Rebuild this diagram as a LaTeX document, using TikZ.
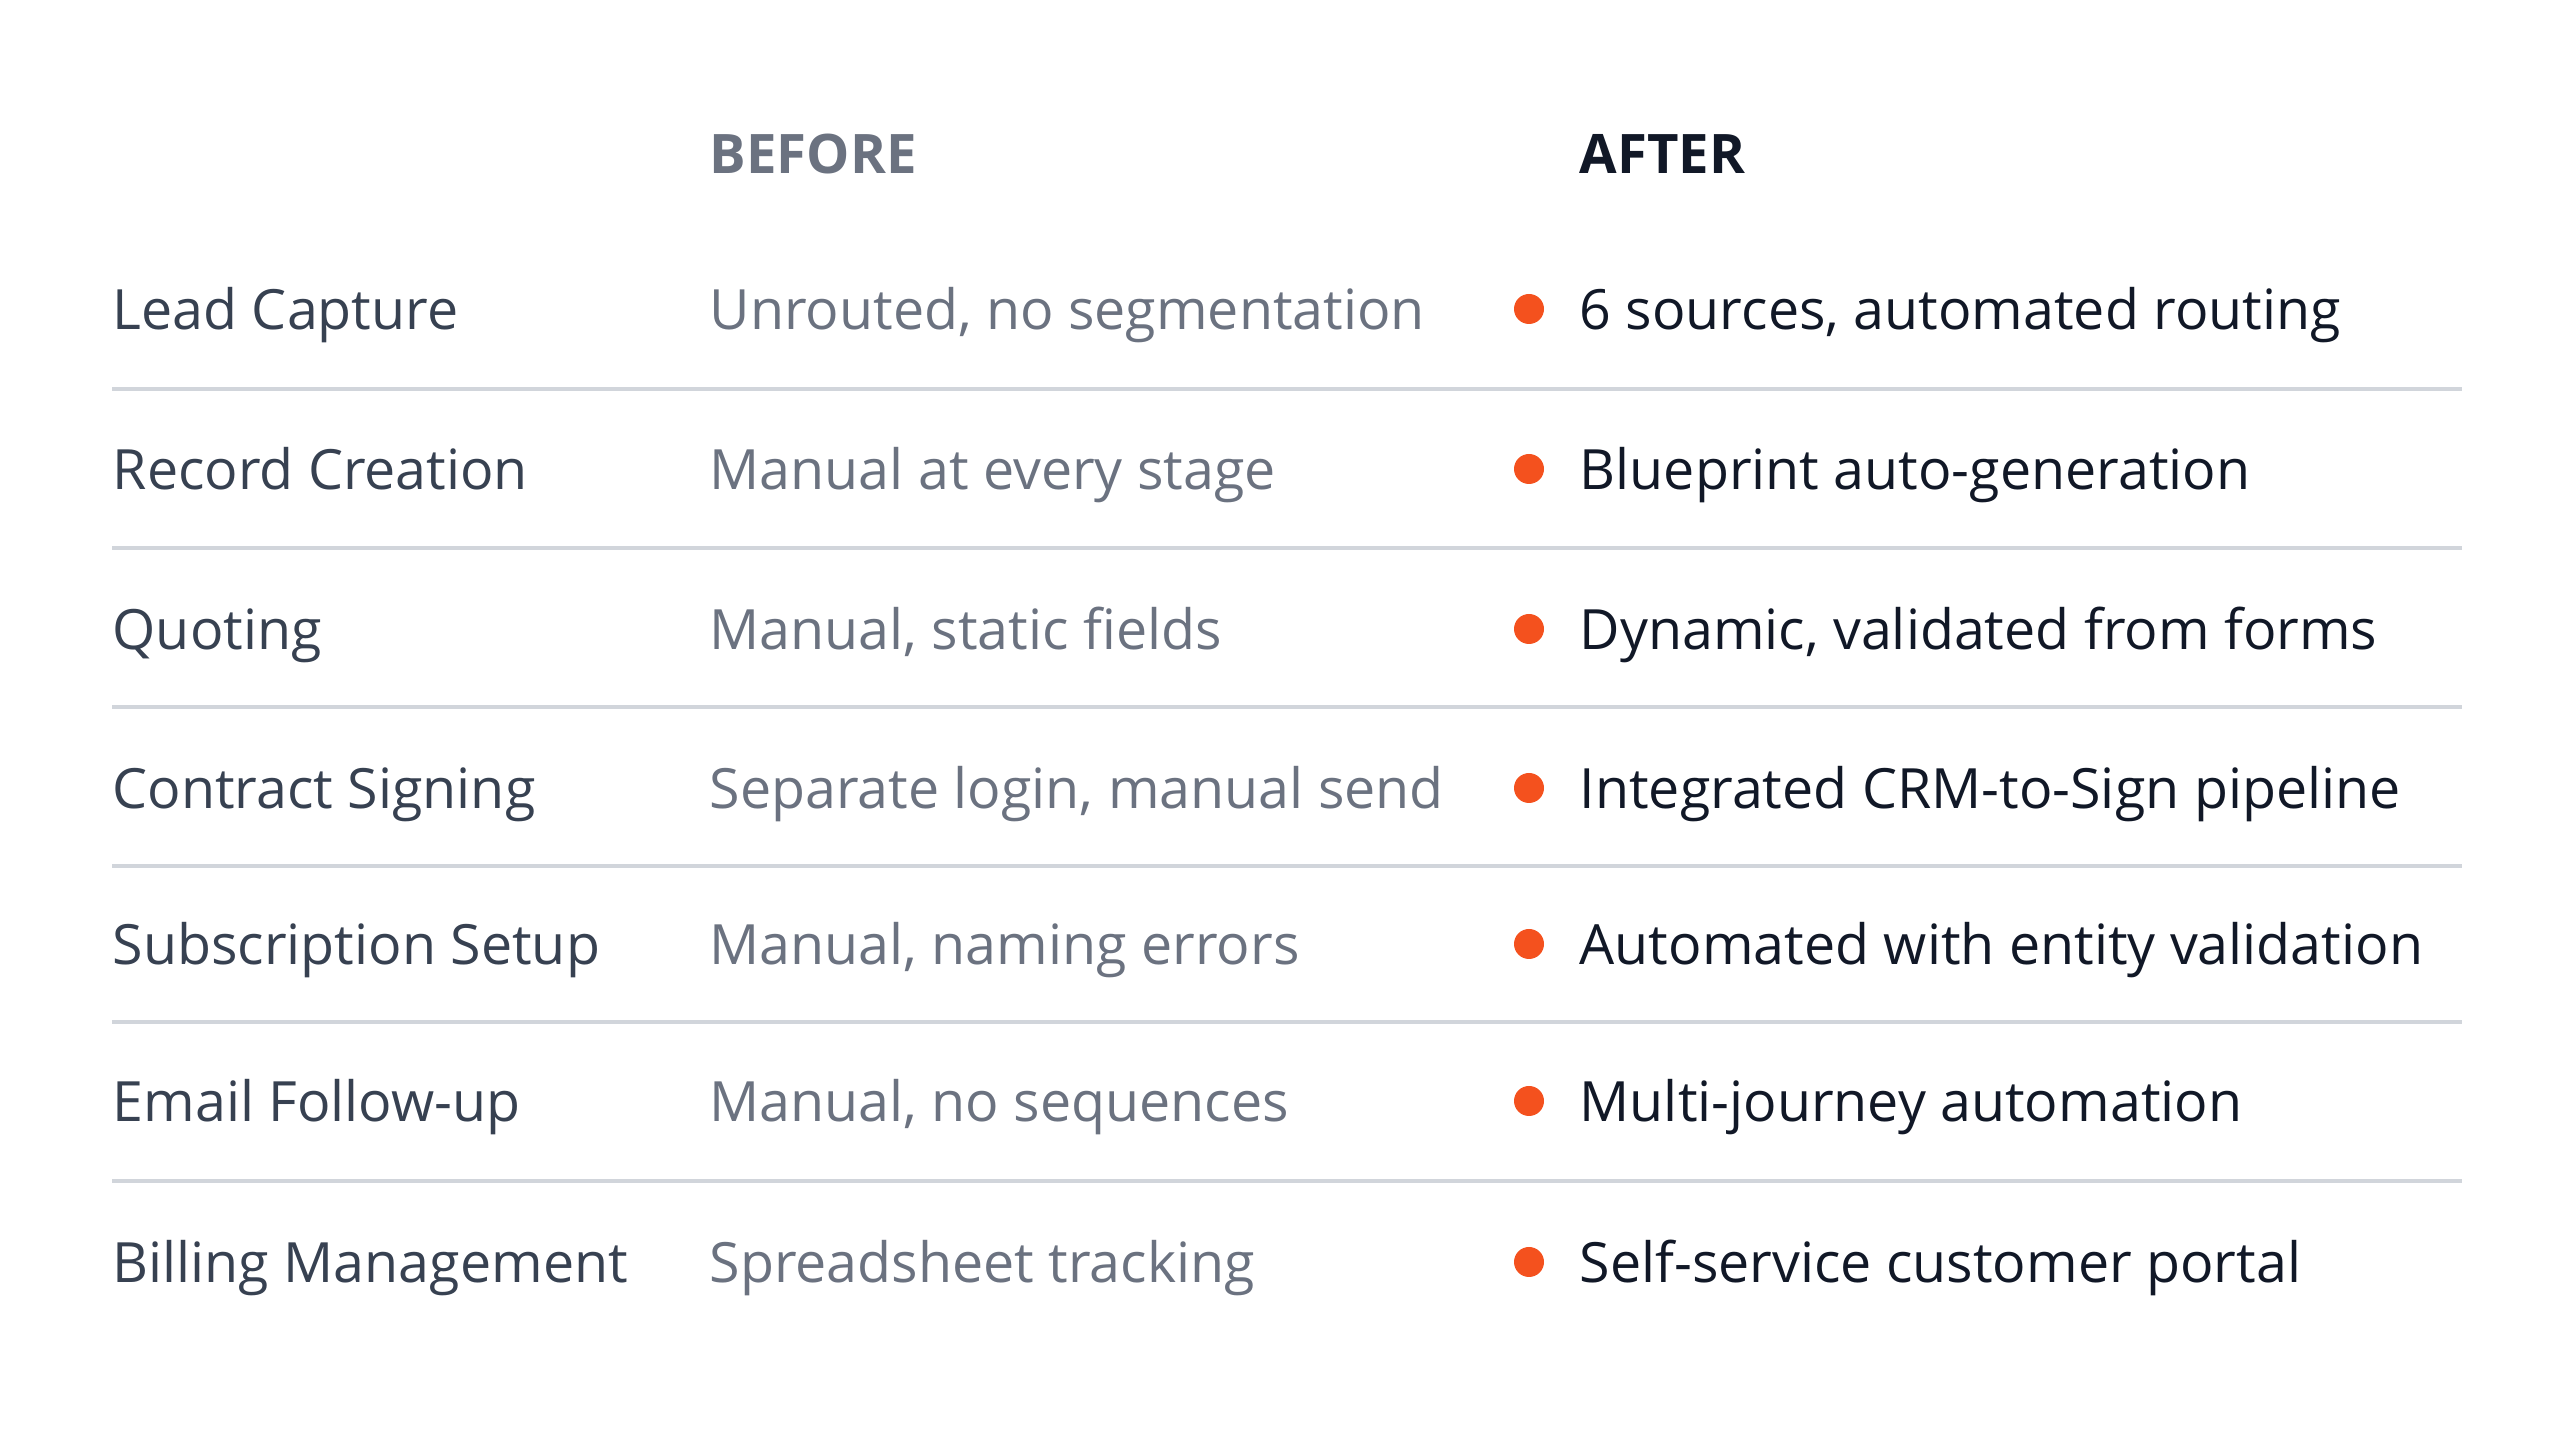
\documentclass[tikz,border=0pt]{standalone}
\usepackage{fontspec}
\setmainfont{Open Sans}
\usetikzlibrary{positioning}
\definecolor{labelgray}{HTML}{374151}
\definecolor{beforegray}{HTML}{6B7280}
\definecolor{afterblack}{HTML}{111827}
\definecolor{dotorange}{HTML}{F4511E}
\definecolor{rulegray}{HTML}{D1D5DB}
\tikzstyle{header} = [anchor=base west, yshift=-0.21cm, font=\fontsize{15.5}{19}\selectfont\bfseries, inner sep=0pt]
\tikzstyle{stage} = [anchor=base west, yshift=-0.21cm, text=labelgray, font=\fontsize{15.8}{20}\selectfont, inner sep=0pt]
\tikzstyle{before} = [anchor=base west, yshift=-0.21cm, text=beforegray, font=\fontsize{15.8}{20}\selectfont, inner sep=0pt]
\tikzstyle{after} = [anchor=base west, yshift=-0.21cm, text=afterblack, font=\fontsize{15.8}{20}\selectfont, inner sep=0pt]
\tikzstyle{bullet} = [circle, fill=dotorange, minimum size=0.3cm, inner sep=0pt]
\tikzstyle{divider} = [rulegray, line width=1.2pt]
\begin{document}
\begin{tikzpicture}
    \useasboundingbox (0,0) rectangle (25.6,14.29);
    \node (before-head) [header, text=beforegray] at (7.09,12.76) {BEFORE};
    \node (after-head) [header, text=afterblack] at (15.79,12.76) {AFTER};

    \node (lead) [stage] at (1.12,11.20) {Lead Capture};
    \node (lead-before) [before] at (7.09,11.20) {Unrouted, no segmentation};
    \node (lead-dot) [bullet] at (15.29,11.20) {};
    \node (lead-after) [after] at (15.79,11.20) {6 sources, automated routing};

    \node (record) [stage] at (1.12,9.60) {Record Creation};
    \node (record-before) [before] at (7.09,9.60) {Manual at every stage};
    \node (record-dot) [bullet] at (15.29,9.60) {};
    \node (record-after) [after] at (15.79,9.60) {Blueprint auto-generation};

    \node (quote) [stage] at (1.12,8.00) {Quoting};
    \node (quote-before) [before] at (7.09,8.00) {Manual, static fields};
    \node (quote-dot) [bullet] at (15.29,8.00) {};
    \node (quote-after) [after] at (15.79,8.00) {Dynamic, validated from forms};

    \node (contract) [stage] at (1.12,6.41) {Contract Signing};
    \node (contract-before) [before] at (7.09,6.41) {Separate login, manual send};
    \node (contract-dot) [bullet] at (15.29,6.41) {};
    \node (contract-after) [after] at (15.79,6.41) {Integrated CRM-to-Sign pipeline};

    \node (subscription) [stage] at (1.12,4.85) {Subscription Setup};
    \node (subscription-before) [before] at (7.09,4.85) {Manual, naming errors};
    \node (subscription-dot) [bullet] at (15.29,4.85) {};
    \node (subscription-after) [after] at (15.79,4.85) {Automated with entity validation};

    \node (email) [stage] at (1.12,3.28) {Email Follow-up};
    \node (email-before) [before] at (7.09,3.28) {Manual, no sequences};
    \node (email-dot) [bullet] at (15.29,3.28) {};
    \node (email-after) [after] at (15.79,3.28) {Multi-journey automation};

    \node (billing) [stage] at (1.12,1.67) {Billing Management};
    \node (billing-before) [before] at (7.09,1.67) {Spreadsheet tracking};
    \node (billing-dot) [bullet] at (15.29,1.67) {};
    \node (billing-after) [after] at (15.79,1.67) {Self-service customer portal};

    \coordinate (rule1-l) at (1.12,10.40); \coordinate (rule1-r) at (24.62,10.40);
    \coordinate (rule2-l) at (1.12,8.81);  \coordinate (rule2-r) at (24.62,8.81);
    \coordinate (rule3-l) at (1.12,7.22);  \coordinate (rule3-r) at (24.62,7.22);
    \coordinate (rule4-l) at (1.12,5.63);  \coordinate (rule4-r) at (24.62,5.63);
    \coordinate (rule5-l) at (1.12,4.07);  \coordinate (rule5-r) at (24.62,4.07);
    \coordinate (rule6-l) at (1.12,2.48);  \coordinate (rule6-r) at (24.62,2.48);

    \draw [divider] (rule1-l) -- (rule1-r);
    \draw [divider] (rule2-l) -- (rule2-r);
    \draw [divider] (rule3-l) -- (rule3-r);
    \draw [divider] (rule4-l) -- (rule4-r);
    \draw [divider] (rule5-l) -- (rule5-r);
    \draw [divider] (rule6-l) -- (rule6-r);
\end{tikzpicture}
\end{document}
